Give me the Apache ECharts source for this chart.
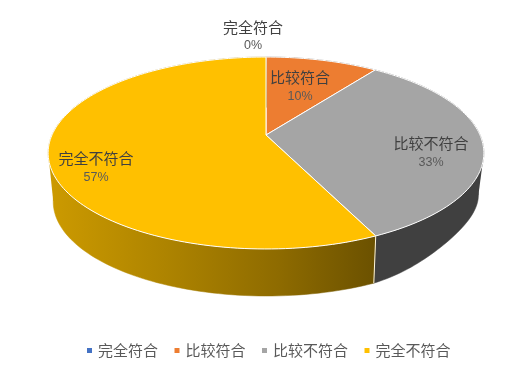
<!DOCTYPE html>
<html><head><meta charset="utf-8">
<style>html,body{margin:0;padding:0;background:#fff}#c{width:506px;height:365px}</style>
<script src="https://cdn.jsdelivr.net/npm/echarts@6/dist/echarts.min.js"></script>
</head><body><div id="c"></div>
<script>
const categories = ['完全符合', '比较符合', '比较不符合', '完全不符合'];
const values = [0, 10, 33, 57];
const percentLabels = ['0%', '10%', '33%', '57%'];
const colors = ['#4472C4', '#ED7D31', '#A5A5A5', '#FFC000'];
const labelAnchors = [[253, 27, 46], [300, 77, 97], [431, 143, 163], [96, 158, 178]];

const total = values.reduce((a, b) => a + b, 0);
const K = 0.1875;
const TOP = { cx: 266, cy: 135, a: 214, b: 92.6, dent: 0 };
const BASE = { cx: 266.5, cy: 184, a: 209.5, b: 91, dent: 0.12 };
function project(plane, frac) {
  const t = frac * 2 * Math.PI;
  const u = Math.sin(t), v = Math.cos(t), d = 1 + K * v;
  const deg = frac * 360, s = (deg - 90) / 65;
  const squeeze = s > 0 && s < 1 ? 1 - plane.dent * s * Math.sin(Math.PI * s) : 1;
  return [plane.cx + plane.a * squeeze * u / d, plane.cy - plane.b * v / d];
}
function rim(plane, f0, f1) {
  const pts = [], n = Math.max(2, Math.ceil((f1 - f0) * 240));
  for (let i = 0; i <= n; i++) pts.push(project(plane, f0 + (f1 - f0) * i / n));
  return pts;
}
function farthest(pts, cx) {
  return pts.reduce((best, p) => Math.abs(p[0] - cx) > Math.abs(best[0] - cx) ? p : best, pts[0]);
}

const chart = echarts.init(document.getElementById('c'), null, { renderer: 'canvas' });
const series = categories.map((name, idx) => ({
  name, type: 'custom', coordinateSystem: 'none', silent: true,
  itemStyle: { color: colors[idx] },
  data: [[values[idx]]],
  z: 2,
  renderItem(params, api) {
    const val = api.value(0);
    const start = values.slice(0, idx).reduce((a, b) => a + b, 0) / total;
    const end = start + val / total;
    const children = [];
    const A = labelAnchors[idx];
    if (val > 0) {
      const edge = rim(TOP, start, end);
      const base = rim(BASE, start, end);
      const fill = idx === 3
        ? new echarts.graphic.LinearGradient(50, 0, 376, 0, [
            { offset: 0, color: '#CC9A00' }, { offset: 0.35, color: '#AE8400' },
            { offset: 0.7, color: '#8E6B00' }, { offset: 1, color: '#6B5100' }], true)
        : '#404040';
      const wall = edge.concat(base.slice().reverse());
      children.push({ type: 'polygon', shape: { points: wall }, style: { fill, stroke: fill, lineWidth: 0.5 } });
      children.push({ type: 'polygon', shape: { points: [farthest(edge, TOP.cx), farthest(base, BASE.cx), [BASE.cx, BASE.cy]] }, style: { fill } });
      if (idx === 3) {
        children.push({ type: 'polyline', shape: { points: [edge[0], base[0]] }, style: { stroke: '#FFF6DC', lineWidth: 1, fill: 'none' } });
      }
      const top = [[TOP.cx, TOP.cy]].concat(edge);
      children.push({ type: 'polygon', shape: { points: top }, style: { fill: colors[idx], stroke: '#fff', lineWidth: 1 } });
    }
    children.push({ type: 'text', z2: 10, style: { text: categories[idx], x: A[0], y: A[1], align: 'center', verticalAlign: 'middle', fill: '#404040', font: '15px "Noto Sans CJK SC"' } });
    children.push({ type: 'text', z2: 10, style: { text: percentLabels[idx], x: A[0], y: A[2], align: 'center', verticalAlign: 'middle', fill: '#595959', font: '12.5px "Liberation Sans"' } });
    return { type: 'group', children };
  }
}));
chart.setOption({
  backgroundColor: '#fff', animation: false,
  color: colors,
  legend: {
    data: categories, left: 82, top: 338, icon: 'rect', itemWidth: 5, itemHeight: 5, itemGap: 16.5,
    textStyle: { color: '#595959', fontSize: 15, fontFamily: '"Noto Sans CJK SC"', padding: [0, 0, 0, 1] }
  },
  series
});
</script></body></html>
